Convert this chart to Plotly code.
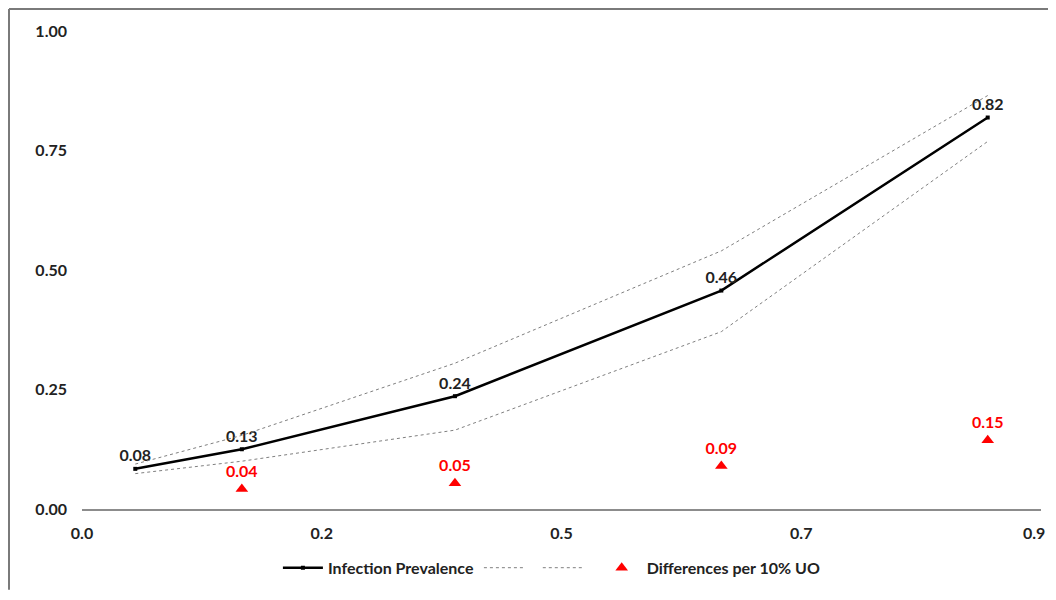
import plotly.graph_objects as go

# Data
uo_share = [0.05, 0.15, 0.35, 0.60, 0.85]
prevalence = [0.084, 0.125, 0.236, 0.457, 0.819]
prev_labels = ["0.08", "0.13", "0.24", "0.46", "0.82"]
upper_ci = [0.094, 0.154, 0.305, 0.540, 0.865]
lower_ci = [0.074, 0.100, 0.165, 0.371, 0.769]
diff_x = [0.15, 0.35, 0.60, 0.85]
differences = [0.042, 0.054, 0.090, 0.144]
diff_labels = ["0.04", "0.05", "0.09", "0.15"]
x_tickvals = [0.0, 0.225, 0.45, 0.675, 0.9]
x_ticktext = ["0.0", "0.2", "0.5", "0.7", "0.9"]
y_tickvals = [0.0, 0.25, 0.5, 0.75, 1.0]
y_ticktext = ["0.00", "0.25", "0.50", "0.75", "1.00"]

FONT = "Lato"
W, H = 1040, 584
ML, MR, MT, MB = 74, 7, 23, 81
TICKFONT = dict(family=FONT, size=16, color="#222222", weight="bold")

fig = go.Figure()
fig.add_trace(go.Scatter(
    x=uo_share, y=prevalence, mode="lines+markers+text",
    name="Infection Prevalence",
    line=dict(color="black", width=2.5),
    marker=dict(symbol="square", size=4, color="black"),
    text=prev_labels, textposition="top center",
    textfont=dict(family=FONT, size=16, color="#222222", weight="bold"),
))
fig.add_trace(go.Scatter(
    x=uo_share, y=upper_ci, mode="lines", name=" ",
    line=dict(color="#7f7f7f", width=1, dash="dot"),
))
fig.add_trace(go.Scatter(
    x=uo_share, y=lower_ci, mode="lines", name=" ",
    line=dict(color="#7f7f7f", width=1, dash="dot"),
))
fig.add_trace(go.Scatter(
    x=diff_x, y=differences, mode="markers+text",
    name="Differences per 10% UO",
    marker=dict(symbol="triangle-up", size=11, color="#ff0000"),
    text=diff_labels, textposition="top center",
    textfont=dict(family=FONT, size=16, color="#ff0000", weight="bold"),
))

# outer frame (left and top edges visible in the reference)
pw = W - ML - MR
ph = H - MT - MB
fx = -(ML - 1) / pw
fy = 1 + (MT - 1) / ph
fig.add_shape(type="line", xref="paper", yref="paper", x0=fx, y0=fy, x1=1.0 + MR / pw, y1=fy,
              line=dict(color="#7a7a7a", width=2))
fig.add_shape(type="line", xref="paper", yref="paper", x0=fx, y0=fy, x1=fx, y1=-MB / ph,
              line=dict(color="#7a7a7a", width=2))

# last x tick label drawn as an annotation so that it is not clipped at the right edge
axis_ticktext = x_ticktext[:-1] + [""]
fig.add_annotation(x=x_tickvals[-1], xref="x", y=0, yref="paper", text=x_ticktext[-1],
                   showarrow=False, xanchor="right", yanchor="top", xshift=6, yshift=-12,
                   font=TICKFONT)

fig.update_layout(
    width=W, height=H,
    margin=dict(l=ML, r=MR, t=MT, b=MB),
    paper_bgcolor="white", plot_bgcolor="white",
    font=dict(family=FONT, size=14, color="#222222"),
    showlegend=True,
    legend=dict(orientation="h", x=0.49, xanchor="center", y=-0.123, yanchor="middle",
                font=dict(family=FONT, size=16, color="#222222", weight="bold"),
                itemwidth=40, tracegroupgap=0),
    xaxis=dict(range=[0, 0.9], tickvals=x_tickvals, ticktext=axis_ticktext,
               showgrid=False, zeroline=False, showline=True, linecolor="#8c8c8c", linewidth=1.5,
               ticks="", ticklabelstandoff=9, automargin=False,
               tickfont=TICKFONT),
    yaxis=dict(range=[0, 1], tickvals=y_tickvals, ticktext=y_ticktext,
               showgrid=False, zeroline=False, showline=False, automargin=False,
               ticks="", ticklabelstandoff=14,
               tickfont=TICKFONT),
)

fig.write_html("out.html")
